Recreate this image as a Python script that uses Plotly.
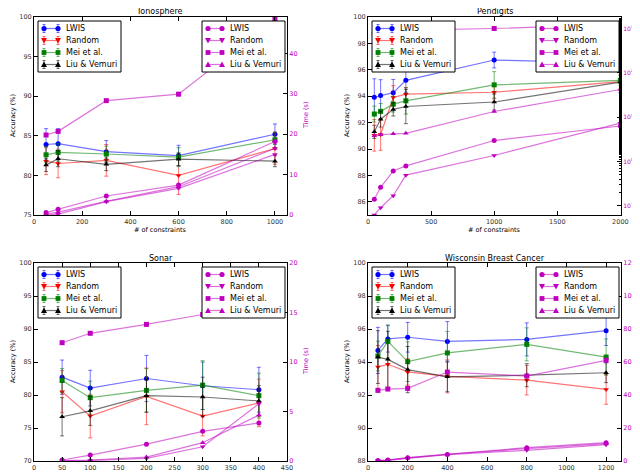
import plotly.graph_objects as go

# ---------------- data ----------------
series_names = ["LWIS", "Random", "Mei et al.", "Liu & Vemuri"]

# Ionosphere
iono_x = [50, 100, 300, 600, 1000]
iono_acc_lwis = [83.9, 84.0, 83.0, 82.5, 85.2]
iono_err_lwis = [2.0, 1.9, 1.4, 1.3, 1.3]
iono_acc_random = [81.8, 81.5, 81.9, 80.0, 83.4]
iono_err_random = [1.7, 1.8, 2.0, 2.4, 2.0]
iono_acc_mei = [82.6, 82.9, 82.7, 82.3, 84.5]
iono_err_mei = [1.0, 1.1, 1.0, 1.2, 1.0]
iono_acc_liu = [81.3, 82.1, 81.4, 82.05, 81.8]
iono_err_liu = [0.8, 1.0, 0.8, 0.8, 0.7]
iono_time_lwis = [0.6, 1.4, 4.7, 7.4, 18.2]
iono_time_random = [0.0, 0.2, 3.3, 6.6, 15.0]
iono_time_mei = [19.8, 20.7, 28.3, 29.9, 48.5]
iono_time_liu = [0.2, 0.7, 3.4, 7.0, 16.5]

# Pendigits
pen_x = [50, 100, 200, 300, 1000, 2000]
pen_acc_lwis = [93.92, 94.05, 94.27, 95.2, 96.74, 96.5]
pen_err_lwis = [1.4, 1.2, 1.0, 0.9, 0.6, 0.6]
pen_acc_random = [91.04, 91.1, 93.9, 94.15, 94.3, 95.1]
pen_err_random = [1.2, 1.2, 0.9, 0.5, 0.5, 0.5]
pen_acc_mei = [92.65, 92.85, 93.4, 93.65, 94.86, 95.2]
pen_err_mei = [0.6, 0.6, 0.6, 1.0, 1.0, 0.4]
pen_acc_liu = [91.3, 92.26, 93.0, 93.22, 93.56, 95.06]
pen_err_liu = [0.5, 0.6, 0.5, 1.3, 0.6, 0.8]
pen_time_lwis = [0.14, 0.26, 0.61, 0.79, 2.96, 6.3]
pen_time_random = [0.062, 0.09, 0.168, 0.49, 1.36, 7.3]
pen_time_mei = [745, 770, 870, 917, 1000, 1250]
pen_time_liu = [3.8, 4.0, 4.2, 4.3, 13.4, 42]

# Sonar
son_x = [50, 100, 200, 300, 400]
son_acc_lwis = [82.7, 81.05, 82.5, 81.4, 80.8]
son_err_lwis = [2.6, 2.7, 3.5, 3.6, 3.4]
son_acc_random = [80.5, 76.8, 79.8, 76.8, 78.8]
son_err_random = [3.2, 3.3, 4.3, 3.0, 3.6]
son_acc_mei = [82.2, 79.6, 80.7, 81.5, 79.9]
son_err_mei = [1.8, 2.5, 3.3, 3.7, 3.4]
son_acc_liu = [76.7, 77.6, 79.9, 79.7, 79.1]
son_err_liu = [2.9, 2.2, 2.5, 3.0, 2.3]
son_time_lwis = [0.1, 0.6, 1.7, 3.0, 3.85]
son_time_random = [0.02, 0.05, 0.26, 1.44, 5.78]
son_time_mei = [11.95, 12.9, 13.8, 14.8, 15.6]
son_time_liu = [0.03, 0.1, 0.4, 1.85, 4.64]

# Wisconsin Breast Cancer
wis_x = [50, 100, 200, 400, 800, 1200]
wis_acc_lwis = [94.7, 95.4, 95.5, 95.25, 95.37, 95.9]
wis_err_lwis = [1.4, 0.8, 0.9, 1.2, 1.0, 0.9]
wis_acc_random = [93.7, 93.86, 93.4, 93.13, 92.9, 92.34]
wis_err_random = [1.3, 1.4, 0.8, 1.0, 0.9, 0.9]
wis_acc_mei = [94.36, 95.25, 94.02, 94.55, 95.07, 94.3]
wis_err_mei = [0.9, 1.0, 1.2, 1.3, 1.0, 1.1]
wis_acc_liu = [94.3, 94.16, 93.54, 93.1, 93.2, 93.35]
wis_err_liu = [1.6, 1.7, 1.4, 0.9, 0.7, 0.6]
wis_time_lwis = [0.3, 0.6, 2.0, 4.0, 8.1, 11.1]
wis_time_random = [0.1, 0.4, 1.6, 3.8, 6.5, 9.9]
wis_time_mei = [42.8, 43.6, 44.0, 53.9, 51.5, 61.0]
wis_time_liu = [0.2, 0.5, 1.9, 4.1, 7.5, 10.5]

titles = ["Ionosphere", "Pendigits", "Sonar", "Wisconsin Breast Cancer"]

# ---------------- styling ----------------
FONT = "DejaVu Sans"
W, H = 640, 472
acc_line = ["rgba(0,0,255,0.55)", "rgba(255,0,0,0.55)", "rgba(0,128,0,0.55)", "rgba(0,0,0,0.55)"]
acc_mark = ["#0000ff", "#ff0000", "#008000", "#000000"]
symbols = ["circle", "triangle-down", "square", "triangle-up"]
MAG = "#bf00bf"
MAG_LINE = "rgba(191,0,191,0.55)"
TICK_SIZE = 6.5

# panel boxes in pixels: (left, right, top, bottom)
boxes = [(26, 279, 9, 207), (360, 613, 9, 207), (26, 279, 255, 453), (360, 613, 255, 453)]

panels = [
    dict(x=iono_x,
         acc=[iono_acc_lwis, iono_acc_random, iono_acc_mei, iono_acc_liu],
         err=[iono_err_lwis, iono_err_random, iono_err_mei, iono_err_liu],
         time=[iono_time_lwis, iono_time_random, iono_time_mei, iono_time_liu],
         xr=[0, 1050], xd=200, yr=[75, 100], yd=5, tr=[0, 49], td=10, log=False),
    dict(x=pen_x,
         acc=[pen_acc_lwis, pen_acc_random, pen_acc_mei, pen_acc_liu],
         err=[pen_err_lwis, pen_err_random, pen_err_mei, pen_err_liu],
         time=[pen_time_lwis, pen_time_random, pen_time_mei, pen_time_liu],
         xr=[0, 2005], xd=500, yr=[85, 100], yd=2, tr=[-1.21, 3.26], td=None, log=True),
    dict(x=son_x,
         acc=[son_acc_lwis, son_acc_random, son_acc_mei, son_acc_liu],
         err=[son_err_lwis, son_err_random, son_err_mei, son_err_liu],
         time=[son_time_lwis, son_time_random, son_time_mei, son_time_liu],
         xr=[0, 450], xd=50, yr=[70, 100], yd=5, tr=[0, 20], td=5, log=False),
    dict(x=wis_x,
         acc=[wis_acc_lwis, wis_acc_random, wis_acc_mei, wis_acc_liu],
         err=[wis_err_lwis, wis_err_random, wis_err_mei, wis_err_liu],
         time=[wis_time_lwis, wis_time_random, wis_time_mei, wis_time_liu],
         xr=[0, 1275], xd=200, yr=[88, 100], yd=2, tr=[0, 120], td=20, log=False),
]

fig = go.Figure()
layout = dict(
    width=W, height=H,
    margin=dict(l=0, r=0, t=0, b=0),
    paper_bgcolor="white", plot_bgcolor="white",
    font=dict(family=FONT, size=7, color="black"),
    showlegend=False,
)
annotations = []
shapes = []


def fx(px):
    return px / W


def fy(py):
    return 1 - py / H


def marker_shape(sym, cx, cy, color):
    """Legend glyph drawn as a layout shape (pixel position -> paper)."""
    if sym == "circle":
        r = 2.6
        return dict(type="circle", xref="paper", yref="paper",
                    x0=fx(cx - r), x1=fx(cx + r), y0=fy(cy + r), y1=fy(cy - r),
                    fillcolor=color, line=dict(width=0), layer="above")
    if sym == "square":
        r = 2.4
        return dict(type="rect", xref="paper", yref="paper",
                    x0=fx(cx - r), x1=fx(cx + r), y0=fy(cy + r), y1=fy(cy - r),
                    fillcolor=color, line=dict(width=0), layer="above")
    if sym == "triangle-down":
        pts = [(cx - 3, cy - 2.4), (cx + 3, cy - 2.4), (cx, cy + 3)]
    else:
        pts = [(cx - 3, cy + 2.4), (cx + 3, cy + 2.4), (cx, cy - 3)]
    path = "M {} {} L {} {} L {} {} Z".format(
        fx(pts[0][0]), fy(pts[0][1]), fx(pts[1][0]), fy(pts[1][1]),
        fx(pts[2][0]), fy(pts[2][1]))
    return dict(type="path", xref="paper", yref="paper", path=path,
                fillcolor=color, line=dict(width=0), layer="above")


def add_legend(bl, bt, line_colors, mark_colors, with_err):
    bw, bh = 83, 51
    shapes.append(dict(type="rect", xref="paper", yref="paper",
                       x0=fx(bl), x1=fx(bl + bw), y0=fy(bt + bh), y1=fy(bt),
                       fillcolor="white", line=dict(color="black", width=1),
                       layer="above"))
    for j in range(4):
        ry = bt + 7.5 + 12 * j
        m1, m2 = bl + 6, bl + 20
        shapes.append(dict(type="line", xref="paper", yref="paper",
                           x0=fx(m1), x1=fx(m2), y0=fy(ry), y1=fy(ry),
                           line=dict(color=line_colors[j], width=1.2), layer="above"))
        for mx in (m1, m2):
            if with_err:
                shapes.append(dict(type="line", xref="paper", yref="paper",
                                   x0=fx(mx), x1=fx(mx), y0=fy(ry + 4), y1=fy(ry - 4),
                                   line=dict(color=line_colors[j], width=1), layer="above"))
                for cy in (ry - 4, ry + 4):
                    shapes.append(dict(type="line", xref="paper", yref="paper",
                                       x0=fx(mx - 1.5), x1=fx(mx + 1.5), y0=fy(cy), y1=fy(cy),
                                       line=dict(color=line_colors[j], width=1),
                                       layer="above"))
            shapes.append(marker_shape(symbols[j], mx, ry, mark_colors[j]))
        annotations.append(dict(text=series_names[j], x=fx(bl + 26), y=fy(ry),
                                xref="paper", yref="paper", showarrow=False,
                                xanchor="left", yanchor="middle",
                                font=dict(size=8, family=FONT, color="black")))


for i, p in enumerate(panels):
    L, R, T, B = boxes[i]
    xa = f"x{i+1}" if i else "x"
    ya_left = f"y{2*i+1}" if i else "y"
    ya_right = f"y{2*i+2}"
    xkey = f"xaxis{i+1}" if i else "xaxis"
    ylkey = f"yaxis{2*i+1}" if i else "yaxis"
    yrkey = f"yaxis{2*i+2}"

    for k in range(4):
        fig.add_trace(go.Scatter(
            x=p["x"], y=p["acc"][k], mode="lines+markers", name=series_names[k],
            xaxis=xa, yaxis=ya_left, showlegend=False,
            line=dict(color=acc_line[k], width=1.2),
            marker=dict(color=acc_mark[k], symbol=symbols[k], size=5,
                        line=dict(width=0)),
            error_y=dict(type="data", array=p["err"][k], color=acc_line[k],
                         thickness=1, width=2),
        ))
    for k in range(4):
        fig.add_trace(go.Scatter(
            x=p["x"], y=p["time"][k], mode="lines+markers", name=series_names[k],
            xaxis=xa, yaxis=ya_right, showlegend=False,
            line=dict(color=MAG_LINE, width=1.2),
            marker=dict(color=MAG, symbol=symbols[k], size=5, line=dict(width=0)),
        ))

    layout[xkey] = dict(
        domain=[fx(L), fx(R)], anchor=ya_left, range=p["xr"], dtick=p["xd"], tick0=0,
        showline=True, linecolor="black", linewidth=1, mirror="ticks",
        ticks="inside", ticklen=4, tickcolor="black", showgrid=False, zeroline=False,
        tickfont=dict(size=TICK_SIZE, family=FONT, color="#333"), automargin=False,
    )
    layout[ylkey] = dict(
        domain=[fy(B), fy(T)], anchor=xa, range=p["yr"], dtick=p["yd"], tick0=0,
        showline=True, linecolor="black", linewidth=1,
        ticks="inside", ticklen=4, tickcolor="black", showgrid=False, zeroline=False,
        tickfont=dict(size=TICK_SIZE, family=FONT, color="#333"), automargin=False,
    )
    yr = dict(
        overlaying=ya_left, side="right", anchor=xa, range=p["tr"],
        showline=True, linecolor="black", linewidth=1,
        ticks="inside", ticklen=4, tickcolor="black", showgrid=False, zeroline=False,
        tickfont=dict(size=TICK_SIZE, family=FONT, color=MAG), automargin=False,
    )
    if p["log"]:
        yr.update(type="log", tickvals=[0.1, 1, 10, 100, 1000],
                  ticktext=["10<sup>-1</sup>", "10<sup>0</sup>", "10<sup>1</sup>",
                            "10<sup>2</sup>", "10<sup>3</sup>"],
                  tickfont=dict(size=6, family=FONT, color=MAG),
                  minor=dict(ticks="inside", ticklen=2, tickcolor="black",
                             showgrid=False))
    else:
        yr.update(dtick=p["td"], tick0=0)
    layout[yrkey] = yr

    # legends (drawn as boxes over the plot, like the original)
    add_legend(L + 4, T + 4, acc_line, acc_mark, True)
    add_legend(R - 85, T + 4, [MAG_LINE] * 4, [MAG] * 4, False)

    cx = (L + R) / 2
    cy = (T + B) / 2
    annotations.append(dict(text=titles[i], x=fx(cx), y=fy(T - 5), xref="paper", yref="paper",
                            showarrow=False, font=dict(size=8, family=FONT, color="black"),
                            xanchor="center", yanchor="middle"))
    annotations.append(dict(text="# of constraints", x=fx(cx), y=fy(B + 14.5), xref="paper",
                            yref="paper", showarrow=False,
                            font=dict(size=6.5, family=FONT, color="black"),
                            xanchor="center", yanchor="middle"))
    annotations.append(dict(text="Accuracy (%)", x=fx(L - 21), y=fy(cy), xref="paper",
                            yref="paper", showarrow=False, textangle=-90,
                            font=dict(size=6.5, family=FONT, color="black"),
                            xanchor="center", yanchor="middle"))
    rx = R + (19 if i in (0, 2) else 21)
    annotations.append(dict(text="Time (s)", x=fx(rx), y=fy(cy), xref="paper",
                            yref="paper", showarrow=False, textangle=-90,
                            font=dict(size=6.5, family=FONT, color=MAG),
                            xanchor="center", yanchor="middle"))

layout["annotations"] = annotations
layout["shapes"] = shapes
fig.update_layout(**layout)
fig.write_html("out.html", config={"displayModeBar": False})
